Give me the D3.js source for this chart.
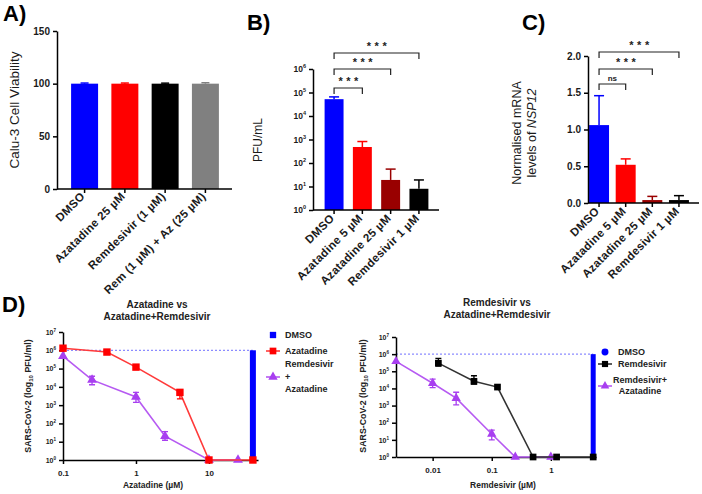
<!DOCTYPE html>
<html><head><meta charset="utf-8">
<script src="https://cdn.jsdelivr.net/npm/d3@7"></script>
<style>
body{margin:0;background:#fff}
svg text{font-family:"Liberation Sans",Arial,Helvetica,sans-serif}
</style>
</head><body>
<svg id="c" width="702" height="494"></svg>
<script>
// ---------- Panel A: viability ----------
const viabilityCategories = ["DMSO", "Azatadine 25 µM", "Remdesivir (1 µM)", "Rem (1 µM) + Az (25  µM)"];
const viabilityValues = [100, 100, 100, 100];
const viabilityUpper = [100.6, 100.6, 100.5, 100.9];
const viabilityColors = ["#0000ff", "#ff0000", "#000000", "#808080"];
const viabilityTicks = [0, 50, 100, 150];

// ---------- Panel B: PFU/mL ----------
const pfuCategories = ["DMSO", "Azatadine 5 µM", "Azatadine 25 µM", "Remdesivir 1 µM"];
const pfuValues = [52000, 480, 19, 8];
const pfuUpper = [65000, 820, 55, 19];
const pfuTicks = [1, 10, 100, 1000, 10000, 100000, 1000000];
const pfuSignificance = ["***", "***", "***"];
const treatmentColors = ["#0000ff", "#ff0000", "#990000", "#000000"];

// ---------- Panel C: NSP12 mRNA ----------
const rnaCategories = ["DMSO", "Azatadine 5 µM", "Azatadine 25 µM", "Remdesivir 1 µM"];
const rnaValues = [1.06, 0.52, 0.04, 0.04];
const rnaUpper = [1.46, 0.60, 0.09, 0.10];
const rnaTicks = [0, 0.5, 1.0, 1.5, 2.0];
const rnaSignificance = ["ns", "***", "***"];

// ---------- Panel D left: Azatadine vs Azatadine+Remdesivir ----------
const azaDose = [0.1, 0.4, 1, 4, 10, 40];
const azaPFU = [1.3e6, 8e5, 1.2e5, 5e3, 1, 1];
const azaLow = [null, null, null, 2.2e3, null, null];
const azaHigh = [null, null, null, 7e3, null, null];
const comboAzaDose = [0.1, 0.25, 1, 2.5, 10, 25];
const comboAzaPFU = [4.8e5, 2.4e4, 2.8e3, 20, 1, 1];
const comboAzaLow = [null, 1.3e4, 1.4e3, 12, null, null];
const comboAzaHigh = [null, 3.8e4, 5e3, 36, null, null];
const dmsoAzaDose = 40;
const dmsoPFU = 1e6;
const azaXTicks = [0.1, 1, 10];
const infectTicks = [1, 10, 100, 1e3, 1e4, 1e5, 1e6, 1e7];

// ---------- Panel D right: Remdesivir vs Azatadine+Remdesivir ----------
const remDose = [0.0125, 0.05, 0.125, 0.5, 1.25, 5.2];
const remPFU = [3e5, 2.6e4, 1.2e4, 1, 1, 1];
const remLow = [2e5, 1.8e4, null, null, null, null];
const remHigh = [5.6e5, 5.5e4, null, null, null, null];
const comboRemDose = [0.0024, 0.01, 0.025, 0.1, 0.25, 1];
const comboRemPFU = [3.8e5, 2e4, 2.7e3, 22, 1, 1];
const comboRemLow = [null, 1.1e4, 1.1e3, 10, null, null];
const comboRemHigh = [null, 3.5e4, 6e3, 37, null, null];
const dmsoRemDose = 5.2;
const remXTicks = [0.01, 0.1, 1];

const svg = d3.select("#c");
svg.append("rect").attr("width", 702).attr("height", 494).attr("fill", "#fff");
const INK = "#1a1a1a";

function styleAxis(g, fs) {
  g.selectAll("path,line").attr("stroke", "#000").attr("stroke-width", 1.5);
  g.selectAll("text").attr("fill", INK).attr("font-weight", "bold").attr("font-size", fs);
}
function supTicks(g, base, exp) {
  g.selectAll(".tick text").each(function(d) {
    const t = d3.select(this);
    t.text("10");
    t.append("tspan").attr("dy", -exp).attr("font-size", base * 0.65).text(Math.round(Math.log10(d)));
  });
}
function panelLabel(txt, x, y) {
  svg.append("text").attr("x", x).attr("y", y).attr("font-size", 22).attr("font-weight", "bold")
    .attr("fill", "#000").text(txt);
}

// ---------------- Bar panel helper ----------------
function barPanel(o) {
  const g = svg.append("g");
  const x = d3.scaleBand().domain(o.cats).range([o.x0, o.x1]).paddingInner(o.pi).paddingOuter(o.po);
  const y = o.y;
  g.selectAll("rect.bar").data(o.cats).join("rect")
    .attr("x", d => x(d)).attr("width", x.bandwidth())
    .attr("y", (d, i) => y(o.vals[i])).attr("height", (d, i) => o.base - y(o.vals[i]))
    .attr("fill", (d, i) => o.colors[i]);
  o.cats.forEach((c, i) => {
    const cx = x(c) + x.bandwidth() / 2;
    g.append("line").attr("x1", cx).attr("x2", cx).attr("y1", y(o.vals[i])).attr("y2", y(o.upper[i]))
      .attr("stroke", o.colors[i]).attr("stroke-width", 1.5);
    g.append("line").attr("x1", cx - o.cap).attr("x2", cx + o.cap).attr("y1", y(o.upper[i])).attr("y2", y(o.upper[i]))
      .attr("stroke", o.colors[i]).attr("stroke-width", 1.5);
  });
  const ya = g.append("g").attr("transform", `translate(${o.x0},0)`)
    .call(d3.axisLeft(y).tickValues(o.ticks).tickSize(4).tickSizeOuter(0).tickFormat(o.fmt || null));
  styleAxis(ya, o.tickFs);
  if (o.log) supTicks(ya, o.tickFs, 4);
  const xa = g.append("g").attr("transform", `translate(0,${o.base})`)
    .call(d3.axisBottom(x).tickSize(4).tickSizeOuter(0).tickFormat(""));
  xa.select(".domain").remove();
  styleAxis(xa, o.tickFs);
  g.append("line").attr("x1", o.x0).attr("x2", o.axisEnd).attr("y1", o.base).attr("y2", o.base)
    .attr("stroke", "#000").attr("stroke-width", 1.5);
  o.cats.forEach(c => {
    const cx = x(c) + x.bandwidth() / 2 + 1;
    g.append("text").attr("transform", `translate(${cx},${o.base + o.labOff}) rotate(-45)`)
      .attr("text-anchor", "end").attr("font-size", o.labFs).attr("font-weight", "bold").attr("fill", INK)
      .attr("letter-spacing", 0.3).text(c);
  });
  if (o.sig) {
    o.sig.forEach((s, k) => {
      const xa0 = x(o.cats[0]) + x.bandwidth() / 2;
      const xb = x(o.cats[k + 1]) + x.bandwidth() / 2;
      const by = o.sigY[k];
      g.append("path").attr("d", `M${xa0},${by + 6}V${by}H${xb}V${by + 6}`)
        .attr("fill", "none").attr("stroke", "#222").attr("stroke-width", 1.2);
      g.append("text").attr("x", (xa0 + xb) / 2 + (s === "ns" ? 0 : 2)).attr("y", by - 3).attr("text-anchor", "middle")
        .attr("font-size", s === "ns" ? 8 : 11).attr("font-weight", "bold").attr("fill", "#222")
        .attr("letter-spacing", s === "ns" ? 0 : 3.5).text(s);
    });
  }
  return { g, x, y };
}

// ---------------- Panel A ----------------
panelLabel("A)", 3, 21);
barPanel({
  cats: viabilityCategories, vals: viabilityValues, upper: viabilityUpper, colors: viabilityColors,
  x0: 57, x1: 233, pi: 0.33, po: 0.35, axisEnd: 232, base: 189,
  y: d3.scaleLinear().domain([0, 150]).range([189, 31]),
  ticks: viabilityTicks, tickFs: 10, cap: 4, labFs: 11.5, labOff: 8
});
svg.append("text").attr("transform", "translate(19,110) rotate(-90)").attr("text-anchor", "middle")
  .attr("font-size", 13.5).attr("fill", INK).text("Calu-3 Cell Viability");

// ---------------- Panel B ----------------
panelLabel("B)", 247, 30);
barPanel({
  cats: pfuCategories, vals: pfuValues, upper: pfuUpper, colors: treatmentColors,
  x0: 313, x1: 440, pi: 0.33, po: 0.41, axisEnd: 439, base: 210,
  y: d3.scaleLog().domain([1, 1e6]).range([210, 69]),
  ticks: pfuTicks, tickFs: 8.5, log: true, cap: 5, labFs: 11.5, labOff: 9,
  sig: pfuSignificance, sigY: [88, 69, 53]
});
svg.append("text").attr("transform", "translate(262,140) rotate(-90)").attr("text-anchor", "middle")
  .attr("font-size", 12).attr("fill", INK).text("PFU/mL");

// ---------------- Panel C ----------------
panelLabel("C)", 522, 30);
barPanel({
  cats: rnaCategories, vals: rnaValues, upper: rnaUpper, colors: treatmentColors,
  x0: 588, x1: 690, pi: 0.25, po: 0.04, axisEnd: 699, base: 203,
  y: d3.scaleLinear().domain([0, 2]).range([203, 56]),
  ticks: rnaTicks, fmt: d3.format(".1f"), tickFs: 10, cap: 5, labFs: 11.5, labOff: 9,
  sig: rnaSignificance, sigY: [84, 69, 52]
});
const cl = svg.append("text").attr("transform", "translate(521,133) rotate(-90)").attr("text-anchor", "middle")
  .attr("font-size", 12.5).attr("fill", INK);
cl.append("tspan").attr("x", 0).attr("dy", 0).text("Normalised mRNA");
const cl2 = cl.append("tspan").attr("x", 0).attr("dy", 15);
cl2.append("tspan").text("levels of ");
cl2.append("tspan").attr("font-style", "italic").text("NSP12");

// ---------------- Panel D helper ----------------
function dosePanel(o) {
  const g = svg.append("g");
  const x = d3.scaleLog().domain(o.xDomain).range(o.xRange);
  const y = d3.scaleLog().domain([1, 1e7]).range(o.yRange);
  g.append("line").attr("x1", o.xRange[0]).attr("x2", x(o.dmsoDose)).attr("y1", y(dmsoPFU)).attr("y2", y(dmsoPFU))
    .attr("stroke", "#8c8cff").attr("stroke-width", 1.3).attr("stroke-dasharray", "2,2");
  g.append("rect").attr("x", x(o.dmsoDose) - o.dmsoW / 2).attr("width", o.dmsoW)
    .attr("y", y(dmsoPFU)).attr("height", y(1) - y(dmsoPFU)).attr("fill", "#0000ff");
  const ya = g.append("g").attr("transform", `translate(${o.xRange[0]},0)`)
    .call(d3.axisLeft(y).tickValues(infectTicks).tickSize(4).tickSizeOuter(0));
  styleAxis(ya, 7);
  supTicks(ya, 7, 3);
  const xa = g.append("g").attr("transform", `translate(0,${o.yRange[0]})`)
    .call(d3.axisBottom(x).tickValues(o.xTicks).tickSize(4).tickSizeOuter(0).tickFormat(d => String(d)));
  styleAxis(xa, 8);
  xa.selectAll(".tick text").attr("dy", "1.1em");
  o.series.forEach(s => {
    const pts = s.dose.map((d, i) => ({ d, v: s.pfu[i], lo: s.lo[i], hi: s.hi[i] }));
    g.append("path").datum(pts).attr("fill", "none").attr("stroke", s.line).attr("stroke-width", 1.6)
      .attr("d", d3.line().x(p => x(p.d)).y(p => y(p.v)));
    pts.forEach(p => {
      if (p.lo != null) {
        const cx = x(p.d);
        g.append("path").attr("d", `M${cx - 3},${y(p.hi)}H${cx + 3}M${cx},${y(p.hi)}V${y(p.lo)}M${cx - 3},${y(p.lo)}H${cx + 3}`)
          .attr("stroke", s.color).attr("stroke-width", 1.3).attr("fill", "none");
      }
    });
    g.selectAll(null).data(pts).join("path")
      .attr("transform", p => `translate(${x(p.d)},${y(p.v)})`)
      .attr("d", d3.symbol().type(s.symbol).size(s.size))
      .attr("fill", s.color);
  });
  o.title.forEach((t, i) => g.append("text").attr("x", o.titleX).attr("y", o.titleY + i * 12)
    .attr("text-anchor", "middle").attr("font-size", 10).attr("font-weight", "bold").attr("fill", "#222").text(t));
  g.append("text").attr("x", o.xLabX).attr("y", 488).attr("text-anchor", "middle").attr("font-size", 8.5)
    .attr("font-weight", "bold").attr("fill", "#222").text(o.xLabel);
  const yl = g.append("text").attr("transform", `translate(${o.yLabX},396) rotate(-90)`).attr("text-anchor", "middle")
    .attr("font-size", 8.8).attr("font-weight", "bold").attr("fill", "#222");
  yl.append("tspan").text("SARS-CoV-2 (log");
  yl.append("tspan").attr("font-size", 6).attr("dy", 2).text("10");
  yl.append("tspan").attr("dy", -2).text(" PFU/ml)");
  return g;
}

// ---------------- Panel D ----------------
panelLabel("D)", 2, 312);
dosePanel({
  xDomain: [0.1, 47], xRange: [63, 258], yRange: [460, 332], xTicks: azaXTicks,
  dmsoDose: dmsoAzaDose, dmsoW: 6,
  series: [
    { dose: comboAzaDose, pfu: comboAzaPFU, lo: comboAzaLow, hi: comboAzaHigh, color: "#a83ff0", line: "#b65af2", symbol: d3.symbolTriangle, size: 42 },
    { dose: azaDose, pfu: azaPFU, lo: azaLow, hi: azaHigh, color: "#ff0000", line: "#ff3a3a", symbol: d3.symbolSquare, size: 55 }
  ],
  title: ["Azatadine vs", "Azatadine+Remdesivir"], titleX: 157, titleY: 308,
  xLabel: "Azatadine (µM)", xLabX: 153, yLabX: 31
});
dosePanel({
  xDomain: [0.0024, 5.8], xRange: [396, 596], yRange: [457, 337], xTicks: remXTicks,
  dmsoDose: dmsoRemDose, dmsoW: 5,
  series: [
    { dose: comboRemDose, pfu: comboRemPFU, lo: comboRemLow, hi: comboRemHigh, color: "#a83ff0", line: "#b65af2", symbol: d3.symbolTriangle, size: 38 },
    { dose: remDose, pfu: remPFU, lo: remLow, hi: remHigh, color: "#000000", line: "#333333", symbol: d3.symbolSquare, size: 45 }
  ],
  title: ["Remdesivir vs", "Azatadine+Remdesivir"], titleX: 497, titleY: 306,
  xLabel: "Remdesivir (µM)", xLabX: 503, yLabX: 366
});

// ---------------- Legends ----------------
function legText(x, y, t, anchor) {
  svg.append("text").attr("x", x).attr("y", y).attr("dy", "0.35em").attr("text-anchor", anchor || "start")
    .attr("font-size", 9).attr("font-weight", "bold").attr("fill", "#222").text(t);
}
function legMarker(cx, cy, sym, size, color, line) {
  if (line) svg.append("line").attr("x1", cx - 7).attr("x2", cx + 7).attr("y1", cy).attr("y2", cy)
    .attr("stroke", line).attr("stroke-width", 1.6);
  svg.append("path").attr("transform", `translate(${cx},${cy})`).attr("d", d3.symbol().type(sym).size(size)).attr("fill", color);
}
legMarker(273, 335, d3.symbolSquare, 40, "#0000ff", null);
legText(285, 335, "DMSO");
legMarker(273, 351, d3.symbolSquare, 45, "#ff0000", "#ff3a3a");
legText(285, 351, "Azatadine");
legMarker(273, 377, d3.symbolTriangle, 38, "#a83ff0", "#b65af2");
legText(285, 364, "Remdesivir");
legText(285, 377, "+");
legText(285, 389, "Azatadine");
legMarker(605, 352, d3.symbolCircle, 38, "#0000ff", null);
legText(618, 352, "DMSO");
legMarker(605, 364, d3.symbolSquare, 38, "#000000", "#333333");
legText(618, 364, "Remdesivir");
legMarker(605, 386, d3.symbolTriangle, 32, "#a83ff0", "#b65af2");
legText(640, 380, "Remdesivir+", "middle");
legText(640, 391, "Azatadine", "middle");
</script>
</body></html>
